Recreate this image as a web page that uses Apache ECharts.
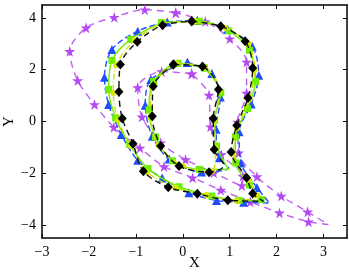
<!DOCTYPE html>
<html>
<head>
<meta charset="utf-8">
<script src="https://cdn.jsdelivr.net/npm/echarts@6/dist/echarts.min.js"></script>
<style>
html,body{margin:0;padding:0;background:#fff;}
#c{width:349px;height:275px;}
</style>
</head>
<body>
<div id="c"></div>
<script>
// ---- tick labels ----
const xTicks = [-3, -2, -1, 0, 1, 2, 3];
const yTicks = [-4, -2, 0, 2, 4];

// ---- series data (closed curves: outer and inner boundary) ----
// magenta stars
const mOuter = [[-0.15,4.20],[-0.81,4.32],[-1.46,4.03],[-2.06,3.62],[-2.41,2.71],[-2.24,1.58],[-1.88,0.66],[-1.47,-0.22],[-0.91,-1.02],[-0.40,-1.74],[0.21,-2.17],[0.81,-2.65],[1.44,-3.10],[2.06,-3.53],[2.68,-3.87],[3.10,-3.98],[2.66,-3.49],[2.10,-2.88],[1.58,-2.13],[1.19,-1.21],[1.17,-0.02],[1.36,1.10],[1.36,2.30],[1.00,3.20],[0.48,3.86],[-0.15,4.20]];
const mInner = [[0.19,1.84],[-0.45,1.93],[-0.96,1.31],[-0.87,0.18],[-0.47,-0.82],[0.06,-1.47],[0.66,-1.98],[1.26,-2.47],[1.28,-2.11],[0.82,-1.28],[0.59,-0.20],[0.56,1.02],[0.19,1.84]];
// blue triangles
const bOuter = [[0.31,3.90],[0.96,3.55],[1.48,2.91],[1.62,1.79],[1.46,0.68],[1.20,-0.40],[1.24,-1.60],[1.58,-2.55],[1.85,-3.15],[1.30,-3.12],[0.72,-3.05],[0.13,-2.75],[-0.44,-2.18],[-0.96,-1.50],[-1.31,-0.50],[-1.58,0.66],[-1.67,1.71],[-1.51,2.78],[-0.96,3.49],[-0.33,3.84],[0.31,3.90]];
const bInner = [[0.10,2.28],[0.62,1.85],[0.80,0.95],[0.71,-0.30],[0.78,-1.40],[0.98,-1.80],[0.40,-1.95],[-0.29,-1.45],[-0.65,-0.57],[-0.80,0.63],[-0.68,1.62],[0.10,2.28]];
// green squares
const gOuter = [[-0.45,3.82],[-1.11,3.17],[-1.51,2.36],[-1.58,1.24],[-1.43,0.14],[-1.13,-0.89],[-0.74,-1.82],[-0.08,-2.52],[0.62,-2.88],[1.20,-3.05],[1.67,-3.01],[1.42,-2.45],[1.13,-1.60],[1.12,-0.60],[1.38,0.50],[1.55,1.55],[1.42,2.75],[0.98,3.50],[0.35,3.87],[-0.45,3.82]];
const gInner = [[0.46,2.07],[0.81,1.11],[0.68,0.05],[0.72,-0.95],[0.98,-1.85],[0.35,-1.85],[-0.22,-1.52],[-0.58,-0.60],[-0.72,0.45],[-0.62,1.55],[-0.10,2.25],[0.46,2.07]];
// yellow circles
const yOuter = [[0.25,3.86],[0.90,3.62],[1.40,3.00],[1.53,2.00],[1.42,0.85],[1.16,-0.25],[1.08,-1.25],[1.40,-2.25],[1.58,-2.85],[1.15,-3.06],[0.50,-2.84],[-0.15,-2.56],[-0.76,-1.95],[-1.10,-0.95],[-1.38,0.05],[-1.48,1.10],[-1.42,2.18],[-1.03,3.12],[-0.42,3.78],[0.25,3.86]];
const yInner = [[-0.15,2.24],[0.46,2.10],[0.79,1.18],[0.68,0.08],[0.70,-1.02],[0.62,-1.93],[0.00,-1.72],[-0.52,-0.92],[-0.69,0.15],[-0.66,1.32],[-0.15,2.24]];
// black diamonds
const kOuter = [[0.19,3.87],[0.81,3.68],[1.33,3.10],[1.49,2.07],[1.39,0.91],[1.15,-0.15],[1.03,-1.18],[1.36,-2.17],[1.49,-2.78],[1.72,-3.08],[0.96,-3.04],[0.31,-2.79],[-0.31,-2.54],[-0.84,-1.92],[-1.06,-0.86],[-1.29,0.12],[-1.36,1.15],[-1.33,2.20],[-0.97,3.08],[-0.43,3.72],[0.19,3.87]];
const kInner = [[-0.20,2.20],[0.42,2.12],[0.76,1.24],[0.65,0.12],[0.67,-1.08],[0.88,-1.70],[0.56,-1.96],[-0.08,-1.72],[-0.47,-0.95],[-0.65,0.20],[-0.63,1.36],[-0.20,2.20]];

const STAR = 'path://M50,0 L61,35 L98,35 L68,57 L79,91 L50,70 L21,91 L32,57 L2,35 L39,35 Z';
const FONT = 'Liberation Serif';

function mk(pts, hidden) {
  return pts.map((p, i) => hidden.indexOf(i) >= 0 ? {value: p, symbol: 'none'} : p);
}
function ser(pts, hidden, color, lineColor, symbol, size, dash, z) {
  return {
    type: 'line', data: mk(pts, hidden), smooth: 0.3, z: z,
    symbol: symbol, symbolSize: size, showAllSymbol: true,
    lineStyle: {color: lineColor, width: 1.4, type: dash},
    itemStyle: {color: color, borderWidth: 0},
    emphasis: {disabled: true}, clip: true
  };
}
function fmt(v) { return v < 0 ? '\u2212' + Math.abs(v) : String(v); }

const axisLine = {onZero: false, lineStyle: {color: '#000', width: 1.5}};
const tickStyle = {lineStyle: {color: '#000', width: 1}};

const option = {
  animation: false,
  backgroundColor: '#fff',
  grid: {left: 42, right: 2, top: 5, bottom: 37, containLabel: false, outerBoundsMode: 'none'},
  xAxis: [
    {type: 'value', min: -3, max: 3.5, position: 'bottom', axisLine: axisLine,
     axisTick: Object.assign({inside: true, length: 4, customValues: xTicks}, tickStyle),
     axisLabel: {customValues: xTicks, formatter: fmt, color: '#000', fontFamily: FONT, fontSize: 14, margin: 7},
     splitLine: {show: false},
     name: 'X', nameLocation: 'middle', nameGap: 18, nameMoveOverlap: false,
     nameTextStyle: {color: '#000', fontFamily: FONT, fontSize: 15}},
    {type: 'value', min: -3, max: 3.5, position: 'top', axisLine: axisLine,
     axisTick: Object.assign({inside: true, length: 4, customValues: xTicks}, tickStyle),
     axisLabel: {show: false}, splitLine: {show: false}}
  ],
  yAxis: [
    {type: 'value', min: -4.5, max: 4.5, position: 'left', axisLine: axisLine,
     axisTick: Object.assign({inside: true, length: 4, customValues: yTicks}, tickStyle),
     axisLabel: {customValues: yTicks, formatter: fmt, color: '#000', fontFamily: FONT, fontSize: 14, margin: 6},
     splitLine: {show: false},
     name: 'Y', nameLocation: 'middle', nameGap: 25, nameMoveOverlap: false,
     nameTextStyle: {color: '#000', fontFamily: FONT, fontSize: 15}},
    {type: 'value', min: -4.5, max: 4.5, position: 'right', axisLine: axisLine,
     axisTick: Object.assign({inside: true, length: 4, customValues: yTicks}, tickStyle),
     axisLabel: {show: false}, splitLine: {show: false}}
  ],
  series: [
    ser(mOuter, [15], '#b44af2', '#c460f0', STAR, 11, [7, 5], 2),
    ser(mInner, [], '#b44af2', '#c460f0', STAR, 11, [7, 5], 2),
    ser(bOuter, [8], '#1f4cff', '#1f4cff', 'triangle', 9, [6, 3], 3),
    ser(bInner, [5], '#1f4cff', '#1f4cff', 'triangle', 9, [6, 3], 3),
    ser(gOuter, [], '#6cf000', '#6cf000', 'rect', 7, 'solid', 4),
    ser(gInner, [4], '#6cf000', '#6cf000', 'rect', 7, 'solid', 4),
    ser(yOuter, [], '#d8e800', '#d0e000', 'circle', 6, [6, 2, 1, 2], 5),
    ser(yInner, [], '#d8e800', '#d0e000', 'circle', 6, [6, 2, 1, 2], 5),
    ser(kOuter, [9], '#000', '#111', 'diamond', [9, 10], [6, 4], 6),
    ser(kInner, [5], '#000', '#111', 'diamond', [9, 10], [6, 4], 6)
  ]
};
const chart = echarts.init(document.getElementById('c'), null, {renderer: 'canvas'});
chart.setOption(option);
</script>
</body>
</html>
